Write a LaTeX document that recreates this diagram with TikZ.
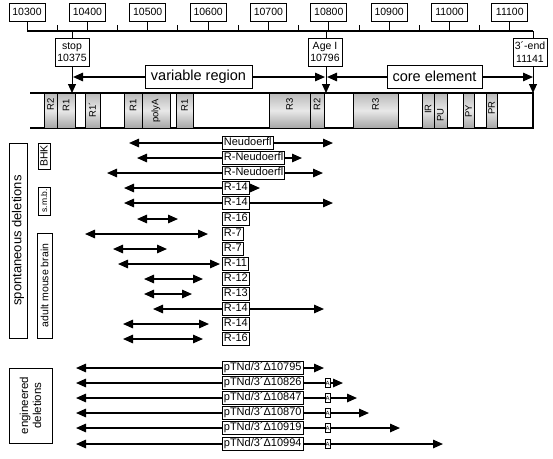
\documentclass[tikz,border=0pt]{standalone}
\usepackage{fontspec}
\setmainfont{Liberation Sans}
\usetikzlibrary{arrows.meta}
\begin{document}
\begin{tikzpicture}[x=1pt,y=-1pt,
  tickbox/.style={draw, line width=0.9pt, fill=white, minimum width=36pt, minimum height=18pt, inner sep=0pt, font=\fontsize{10.5}{12}\selectfont},
  posbox/.style={draw, line width=0.9pt, fill=white, minimum width=34pt, minimum height=28pt, inner sep=0pt, align=center, font=\fontsize{10.5}{12.5}\selectfont},
  regbox/.style={draw, line width=0.9pt, fill=white, minimum height=23pt, inner sep=0pt, font=\fontsize{14.5}{16}\selectfont},
  thinline/.style={line width=1pt},
  downarrow/.style={line width=1pt, -{Triangle[length=9pt,width=8pt]}},
  harr/.style={line width=1.5pt, {Triangle[length=10pt,width=8.5pt]}-{Triangle[length=10pt,width=8.5pt]}},
  seg/.style={draw, line width=0.8pt, top color=gray!55, bottom color=gray!70, middle color=gray!18},
  seglab/.style={rotate=90, font=\fontsize{9.5}{10}\selectfont, inner sep=0pt},
  catbox/.style={draw, line width=0.9pt, rotate=90, inner sep=0pt},
  dlab/.style={draw, fill=white, line width=0.8pt, anchor=west, inner xsep=1.5pt, inner ysep=1pt, text height=8pt, text depth=2.5pt, font=\fontsize{11}{12}\selectfont},
  tinybox/.style={draw, fill=white, line width=0.7pt, minimum width=5pt, minimum height=9pt, inner sep=0pt, font=\fontsize{6}{6}\selectfont}
]
\useasboundingbox (0,0) rectangle (553,458);

% ---------- scale ----------
\coordinate (axL) at (27,31);
\coordinate (axR) at (533,31);
\draw[line width=1.5pt] (axL) -- (axR);
\foreach \n/\x in {10300/27,10400/87.4,10500/147.7,10600/208.1,10700/268.4,10800/328.8,10900/389.1,11000/449.5,11100/509.8}{
  \node[tickbox] (t\n) at (\x,12) {\n};
  \coordinate (a\n) at (\x,31);
  \draw[thinline] (t\n.south) -- (a\n);
}
\foreach \x in {57.2,117.6,177.9,238.3,298.6,359,419.3,479.7}{
  \draw[thinline] (\x,25) -- (\x,31);
}

% ---------- position markers ----------
\node[posbox] (stop) at (72,52) {stop\\10375};
\node[posbox] (agei) at (325,52) {Age I\\10796};
\node[posbox] (tend) at (530,52) {3´-end\\11141};
\coordinate (astop) at (72,31);
\coordinate (aagei) at (326,31);
\coordinate (atend) at (533,31);
\coordinate (bstop) at (72,93);
\coordinate (bagei) at (326,93);
\coordinate (btend) at (533,93);
\draw[thinline] (astop) -- (stop.north);
\draw[thinline] (aagei) -- (aagei |- agei.north);
\draw[thinline] (atend) -- (atend |- tend.north);
\draw[downarrow] (stop.south) -- (bstop);
\draw[downarrow] (bagei |- agei.south) -- (bagei);
\draw[downarrow] (btend |- tend.south) -- (btend);

% ---------- regions ----------
\coordinate (vrL) at (73,77);
\coordinate (vrR) at (325,77);
\coordinate (ceL) at (327,77);
\coordinate (ceR) at (533,77);
\draw[harr] (vrL) -- (vrR);
\draw[harr] (ceL) -- (ceR);
\node[regbox, minimum width=107pt] (varreg) at (198.5,76.5) {variable region};
\node[regbox, minimum width=95pt] (core) at (434.5,76.5) {core element};

% ---------- bar ----------
\draw[line width=1.1pt] (30,93) -- (533,93) -- (533,128) -- (30,128);
\foreach \a/\b/\t/\ty/\k in {44/57/R2/104/1, 57/75/R1/105/2, 85/100/R1´/110/3, 124/142/R1/105.5/4, 142/170/polyA/111/5, 176/193/R1/105/6, 269/310/R3/104/7, 310/324/R2/104/8, 353/398/R3/104/9, 422/434/IR/109/10, 434/447/PU/115/11, 463/474/PY/111/12, 486/497/PR/108/13}{
  \path[seg] (\a,93) rectangle (\b,128);
  \node[seglab] (seg\k) at ({(\a+\b)/2},\ty) {\t};
}

% ---------- category labels ----------
\node[catbox, minimum width=195pt, minimum height=18pt, font=\fontsize{13}{14}\selectfont] (spont) at (18,240.5) {spontaneous deletions};
\node[catbox, minimum width=26pt, minimum height=12pt, font=\fontsize{10.5}{12}\selectfont] (bhk) at (44,156) {BHK};
\node[catbox, minimum width=28pt, minimum height=12pt, font=\fontsize{8.5}{10}\selectfont] (smb) at (44,201) {s.m.b.};
\node[catbox, minimum width=105pt, minimum height=15pt, font=\fontsize{10.5}{12}\selectfont] (amb) at (44.5,285.5) {adult mouse brain};
\node[catbox, minimum width=75pt, minimum height=43pt, align=center, font=\fontsize{11.5}{13}\selectfont] (eng) at (30.5,405.5) {engineered\\deletions};

% ---------- spontaneous deletions ----------
\foreach \i/\l/\r/\txt in {1/129/333/Neudoerfl, 2/137/302/R-Neudoerfl, 3/107/323/R-Neudoerfl, 4/124/260/R-14, 5/124/333/R-14, 6/137/178/R-16, 7/85/208/R-7, 8/113/167/R-7, 9/118/220/R-11, 10/144/203/R-12, 11/144/192/R-13, 12/153/324/R-14, 13/123/209/R-14, 14/123/203/R-16}{
  \pgfmathsetmacro\yy{round(143+15.1*(\i-1))}
  \coordinate (sL\i) at (\l,\yy);
  \coordinate (sR\i) at (\r,\yy);
  \draw[harr] (sL\i) -- (sR\i);
  \node[dlab] (slab\i) at (222,\yy) {\txt};
}

% ---------- engineered deletions ----------
\foreach \i/\r/\n in {1/324/10795, 2/343/10826, 3/357/10847, 4/369/10870, 5/400/10919, 6/443/10994}{
  \pgfmathsetmacro\yy{round(368+15.1*(\i-1))}
  \coordinate (eL\i) at (76,\yy);
  \coordinate (eR\i) at (\r,\yy);
  \draw[harr] (eL\i) -- (eR\i);
  \node[dlab] (elab\i) at (222,\yy) {pTNd/3´Δ\n};
}
\foreach \i in {2,...,6}{
  \pgfmathsetmacro\yy{round(368+15.1*(\i-1))}
  \node[tinybox] (ea\i) at (327.5,\yy) {A};
}
\end{tikzpicture}
\end{document}
